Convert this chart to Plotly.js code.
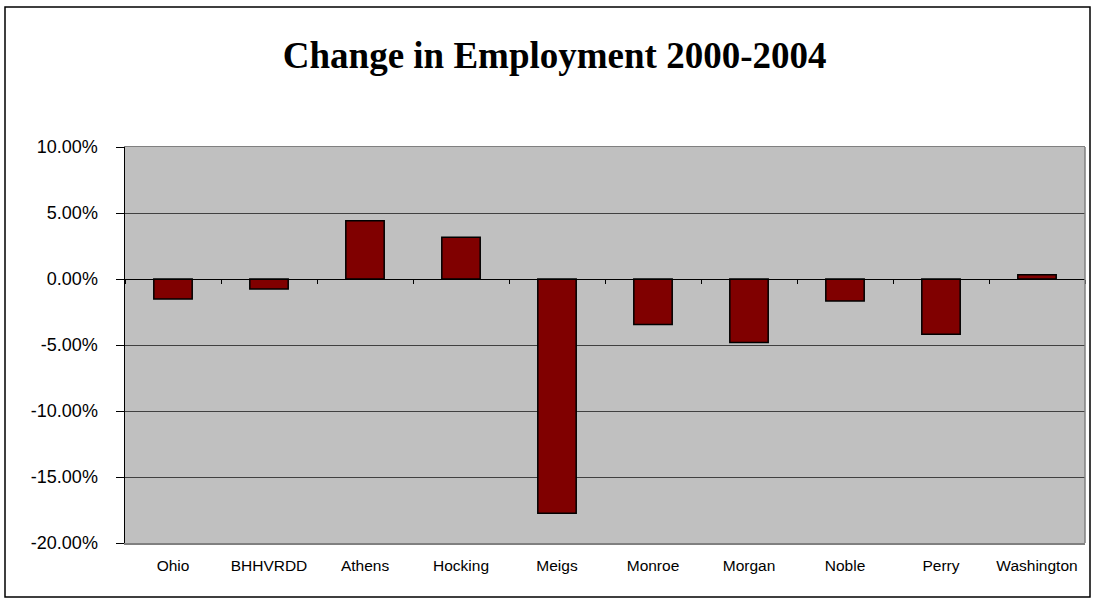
<!DOCTYPE html>
<html>
<head>
<meta charset="utf-8">
<script src="https://cdn.plot.ly/plotly-3.0.1.min.js"></script>
<style>
  html, body { margin: 0; padding: 0; background: #ffffff; }
  #chart { width: 1094px; height: 599px; }
</style>
</head>
<body>
<div id="chart"></div>
<script>
// Data (percent change in employment, 2000-2004)
const categories = ["Ohio", "BHHVRDD", "Athens", "Hocking", "Meigs", "Monroe", "Morgan", "Noble", "Perry", "Washington"];
const changePct = [-1.51, -0.76, 4.41, 3.17, -17.74, -3.45, -4.82, -1.66, -4.19, 0.33];
const yTickValues = [10, 5, 0, -5, -10, -15, -20];
const yTickLabels = ["10.00%", "5.00%", "0.00%", "-5.00%", "-10.00%", "-15.00%", "-20.00%"];
const chartTitle = "Change in Employment 2000-2004";

const boundaries = categories.map((_, i) => i - 0.5).concat([categories.length - 0.5]);

const traces = [
  {
    type: "bar",
    x: categories,
    y: changePct,
    marker: { color: "#800000", line: { color: "#000000", width: 1.5 } },
    hoverinfo: "x+y"
  },
  {
    type: "scatter",
    mode: "markers",
    x: [0],
    y: [0],
    xaxis: "x2",
    marker: { opacity: 0 },
    hoverinfo: "skip",
    showlegend: false
  }
];

const layout = {
  width: 1094,
  height: 599,
  margin: { l: 125, r: 9, t: 147, b: 56 },
  paper_bgcolor: "#ffffff",
  plot_bgcolor: "#c0c0c0",
  showlegend: false,
  bargap: 0.6,
  title: {
    text: chartTitle,
    font: { family: "Liberation Serif, Times New Roman, serif", size: 37, color: "#000000", weight: "bold" },
    xref: "container", yref: "container",
    x: 0.507, y: 0.908, xanchor: "center", yanchor: "middle"
  },
  xaxis: {
    type: "category",
    showline: true, linecolor: "#808080", linewidth: 1.5, mirror: true,
    ticks: "outside", ticklen: 8, tickcolor: "rgba(0,0,0,0)",
    tickfont: { family: "Liberation Sans, Arial, sans-serif", size: 15.5, color: "#000000" },
    showgrid: false, zeroline: false, fixedrange: true
  },
  xaxis2: {
    overlaying: "x",
    anchor: "free",
    position: 2 / 3,
    range: [-0.5, categories.length - 0.5],
    showline: true, linecolor: "#000000", linewidth: 1,
    ticks: "outside", ticklen: 4, tickcolor: "#000000", tickwidth: 1,
    tickvals: boundaries,
    showticklabels: false, showgrid: false, zeroline: false, fixedrange: true
  },
  yaxis: {
    range: [-20, 10],
    tickvals: yTickValues,
    ticktext: yTickLabels,
    showline: true, linecolor: "#000000", linewidth: 1.5,
    ticks: "outside", ticklen: 8, tickcolor: "#000000", tickwidth: 1,
    ticklabelstandoff: 14,
    tickfont: { family: "Liberation Sans, Arial, sans-serif", size: 18, color: "#000000" },
    showgrid: true, gridcolor: "#404040", gridwidth: 1,
    zeroline: false, fixedrange: true
  },
  shapes: [
    { type: "line", xref: "paper", yref: "paper", x0: 1, x1: 1, y0: 0, y1: 1,
      line: { color: "#808080", width: 1.5 } },
    { type: "rect", xref: "paper", yref: "paper",
      x0: (5 - 125) / 960, x1: (1090 - 125) / 960,
      y0: (543 - 597) / 396, y1: (543 - 7) / 396,
      line: { color: "#000000", width: 1.5 }, fillcolor: "rgba(0,0,0,0)" }
  ]
};

Plotly.newPlot("chart", traces, layout, { displayModeBar: false, staticPlot: true });
</script>
</body>
</html>
